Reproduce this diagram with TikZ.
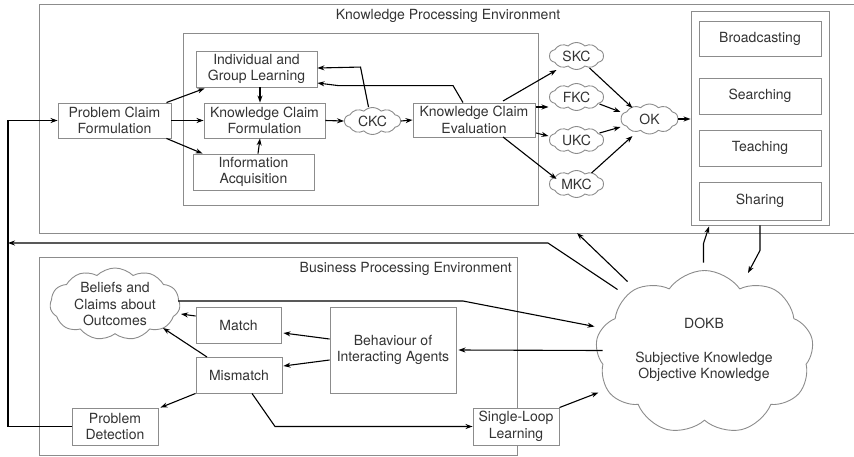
\documentclass[tikz,border=0pt]{standalone}
\usepackage{fontspec}
\setmainfont{TeX Gyre Heros}
\usetikzlibrary{shapes.symbols,arrows.meta,calc}
\definecolor{boxgray}{HTML}{8C8C8C}
\definecolor{txtgray}{HTML}{333333}
\begin{document}
\begin{tikzpicture}[x=1pt,y=-1pt,
 every node/.style={font=\fontsize{14}{16.7}\selectfont, text=txtgray},
 box/.style={draw=boxgray, line width=0.9pt, fill=white, align=center, inner sep=0pt},
 frame/.style={draw=boxgray, line width=0.9pt},
 cloudst/.style={cloud, draw=boxgray, line width=0.9pt, fill=white, cloud puffs=#1, cloud puff arc=90, cloud ignores aspect, inner sep=0pt},
 cloudst/.default=10,
 lbl/.style={align=center, inner sep=0pt},
 arr/.style={line width=1.1pt, -{Stealth[length=7pt,width=5pt]}},
 ln/.style={line width=1.1pt}]
\useasboundingbox (0,0) rectangle (854,456);
% frames
\draw[frame] (854,4) -- (39,4) -- (39,233) -- (854,233);
\node[lbl] (kpetitle) at (448,16) {Knowledge Processing Environment};
\coordinate (kpeb) at (577,233);
\draw[frame] (183,33) rectangle (538,205);
\draw[frame] (39,257) rectangle (517,455);
\node[lbl, anchor=east] (bpetitle) at (512,269) {Business Processing Environment};
% upper nodes
\node[box, minimum width=113, minimum height=35] (pcf) at (114.5,120.5) {Problem Claim\\Formulation};
\node[box, minimum width=121, minimum height=36] (igl) at (256.5,69) {Individual and\\Group Learning};
\node[box, minimum width=121, minimum height=35] (kcf) at (264.5,120.5) {Knowledge Claim\\Formulation};
\node[box, minimum width=121, minimum height=36] (ia) at (253.5,172) {Information\\Acquisition};
\node[box, minimum width=122, minimum height=34] (kce) at (474,120) {Knowledge Claim\\Evaluation};
\node[cloudst, minimum width=56, minimum height=27] (ckc) at (372.5,121) {};
\node[lbl] at (ckc) {CKC};
\node[cloudst, minimum width=54, minimum height=27] (skc) at (576.5,56) {};
\node[lbl] at (skc) {SKC};
\node[cloudst, minimum width=54, minimum height=27] (fkc) at (576.5,97) {};
\node[lbl] at (fkc) {FKC};
\node[cloudst, minimum width=54, minimum height=27] (ukc) at (576.5,140) {};
\node[lbl] at (ukc) {UKC};
\node[cloudst, minimum width=54, minimum height=27] (mkc) at (576.5,184) {};
\node[lbl] at (mkc) {MKC};
\node[cloudst, minimum width=57, minimum height=30] (ok) at (649.5,119) {};
\node[lbl] at (ok) {OK};
\node[box, minimum width=138, minimum height=214] (rbox) at (760,118) {};
\node[box, minimum width=122, minimum height=35] (bc) at (760,38.5) {Broadcasting};
\node[box, minimum width=122, minimum height=36] (se) at (760,96) {Searching};
\node[box, minimum width=122, minimum height=36] (te) at (760,148) {Teaching};
\node[box, minimum width=122, minimum height=38] (sh) at (760,201) {Sharing};
% lower nodes
\node[cloudst=11, minimum width=130, minimum height=72] (beliefs) at (115,304) {};
\node[lbl] at (beliefs) {Beliefs and\\Claims about\\Outcomes};
\node[box, minimum width=85, minimum height=36] (match) at (238.5,325) {Match};
\node[box, minimum width=86, minimum height=36] (mismatch) at (239,375) {Mismatch};
\node[box, minimum width=126, minimum height=86] (beh) at (393,350) {Behaviour of\\Interacting Agents};
\node[box, minimum width=86, minimum height=37] (pd) at (115,426.5) {Problem\\Detection};
\node[box, minimum width=86, minimum height=37] (sll) at (516,426.5) {Single-Loop\\Learning};
\node[cloudst=9, minimum width=218, minimum height=164, cloud puff arc=110] (dokb) at (704.5,352.5) {};
\node[lbl] at (704,350) {DOKB\\[17pt]Subjective Knowledge\\Objective Knowledge};
% upper arrows
\draw[arr] ($(pcf.north east)+(-5,0)$) -- ($(igl.south west)+(9,1)$);
\draw[arr] (pcf.east) -- (kcf.west);
\draw[arr] ($(pcf.south east)+(-5,0)$) -- ($(ia.north west)+(10,0)$);
\draw[arr] ($(igl.south)+(3.5,0)$) -- ($(kcf.north)+(-4.5,0)$);
\draw[arr] ($(ia.north)+(4.5,0)$) -- ($(kcf.south)+(-4.5,0)$);
\draw[arr] (kcf.east) -- (ckc.west);
\draw[arr] (ckc.east) -- (kce.west);
\draw[arr] ($(ckc.north)+(-4,0)$) -- ++(-8,-40) -- ($(igl.east)+(0,-1)$);
\draw[arr] ($(kce.north)+(-11,0)$) -- ++(-10,-17) -- ++(-115,0) -- ($(igl.east)+(0,14)$);
\draw[arr] ($(kce)+(29,-19)$) -- ($(skc)+(-20,14)$);
\draw[arr] ($(kce)+(62,-13)$) -- ($(fkc)+(-28,10)$);
\draw[arr] ($(kce)+(62,13)$) -- ($(ukc)+(-28,-4)$);
\draw[arr] ($(kce)+(29,17)$) -- ($(mkc)+(-20,-5)$);
\draw[arr] ($(skc)+(13,12)$) -- ($(ok)+(-17,-11)$);
\draw[arr] ($(fkc)+(23,7)$) -- ($(ok)+(-29,-7)$);
\draw[arr] ($(ukc)+(23,-7)$) -- ($(ok)+(-29,8)$);
\draw[arr] ($(mkc)+(15,-11)$) -- ($(ok)+(-17,17)$);
\draw[arr] (ok.east) -- (rbox.west |- ok.east);
% feedback loop
\coordinate (loop) at (8,300);
\draw[arr] (pd.west) -| (loop) |- (pcf.west);
\draw[arr] ($(dokb)+(-87,-63)$) -- (548,243) -- (loop |- 0,243);
\draw[arr] ($(dokb)+(-77,-71)$) -- (kpeb);
\draw[arr] ($(dokb)+(-1,-90)$) -- ++(0,-19) -- ($(rbox.south)+(-51,1)$);
\draw[arr] (rbox.south) -- ++(0,25) -- ($(dokb)+(43.5,-79.5)$);
% lower arrows
\draw[arr] ($(beliefs)+(63,-3)$) -- (463,301) -- ($(dokb)+(-110,-26)$);
\draw[arr] ($(match.west)+(0,-9)$) -- ($(beliefs)+(66,10)$);
\draw[arr] ($(mismatch)+(-32,-18)$) -- ($(beliefs)+(48,24)$);
\draw[arr] ($(beh.west)+(0,-11)$) -- ($(match.east)+(2,8)$);
\draw[arr] ($(beh.west)+(0,10)$) -- ($(mismatch.east)+(1,-9)$);
\draw[arr] ($(dokb)+(-102,-2)$) -- ($(beh.east)+(2,0)$);
\draw[arr] (mismatch.south west) -- ($(pd.north east)+(2,0)$);
\draw[arr] ($(mismatch.south)+(13,0)$) -- (275,426.5) -- (sll.west);
\draw[arr] (sll.north east) -- ($(dokb)+(-106,40)$);
\end{tikzpicture}
\end{document}
